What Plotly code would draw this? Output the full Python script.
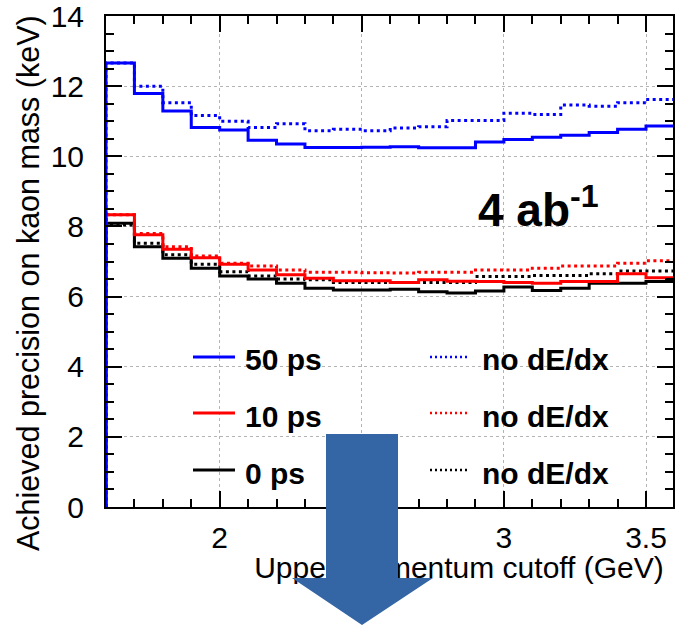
import plotly.graph_objects as go

# ---- data ----
bin_edges = [1.6, 1.7, 1.8, 1.9, 2.0, 2.1, 2.2, 2.3, 2.4, 2.5, 2.6, 2.7,
             2.8, 2.9, 3.0, 3.1, 3.2, 3.3, 3.4, 3.5, 3.6]
blue_50ps = [12.66, 11.79, 11.29, 10.82, 10.75, 10.46, 10.35, 10.25, 10.25, 10.26,
             10.27, 10.24, 10.24, 10.41, 10.48, 10.54, 10.60, 10.68, 10.77, 10.86]
blue_nodedx = [12.66, 12.00, 11.53, 11.16, 11.00, 10.82, 10.93, 10.73, 10.77, 10.73,
               10.81, 10.84, 11.02, 11.02, 11.23, 11.19, 11.46, 11.43, 11.53, 11.62]
red_10ps = [8.33, 7.76, 7.35, 7.11, 6.92, 6.76, 6.62, 6.52, 6.45, 6.45,
            6.40, 6.48, 6.44, 6.43, 6.40, 6.38, 6.43, 6.43, 6.65, 6.54]
red_nodedx = [8.33, 7.80, 7.42, 7.16, 6.95, 6.87, 6.76, 6.69, 6.69, 6.68,
              6.67, 6.69, 6.69, 6.76, 6.76, 6.81, 6.87, 6.87, 6.95, 7.02]
black_0ps = [8.09, 7.42, 7.09, 6.81, 6.59, 6.50, 6.38, 6.24, 6.19, 6.19,
             6.21, 6.14, 6.10, 6.16, 6.27, 6.17, 6.24, 6.38, 6.38, 6.43]
black_nodedx = [8.04, 7.52, 7.19, 6.92, 6.71, 6.59, 6.50, 6.48, 6.40, 6.40,
                6.40, 6.40, 6.40, 6.57, 6.57, 6.60, 6.60, 6.65, 6.73, 6.73]

legend_left = ["50 ps", "10 ps", "0 ps"]
legend_right = ["no dE/dx", "no dE/dx", "no dE/dx"]
colors = ["#0000ff", "#ff0000", "#000000"]
x_title = "Upper momentum cutoff (GeV)"
y_title = "Achieved precision on kaon mass (keV)"
lumi_main = "4 ab"
lumi_sup = "-1"

FONT = "Liberation Sans, Arial, Helvetica, sans-serif"
W, H = 678, 629
ML, MR, MT, MB = 106, 5, 16, 0
PW, PH = W - ML - MR, H - MT - MB
PLOT_BOTTOM = 507          # page pixel of the x axis
XR = [1.6, 3.595]
YR = [0, 14]
dom_main = (H - PLOT_BOTTOM) / PH
dom_low = dom_main - 0.01


def px(X):
    return (X - ML) / PW


def py(Y):
    return (H - MB - Y) / PH


def hist_xy(edges, vals):
    xs = [edges[0]] + list(edges)
    ys = [0] + list(vals) + [vals[-1]]
    return xs, ys


fig = go.Figure()
series = [
    (black_0ps, colors[2], "solid"),
    (black_nodedx, colors[2], "3px,3.5px"),
    (red_10ps, colors[1], "solid"),
    (red_nodedx, colors[1], "3px,3.5px"),
    (blue_50ps, colors[0], "solid"),
    (blue_nodedx, colors[0], "3px,3.5px"),
]
for vals, col, dash in series:
    xs, ys = hist_xy(bin_edges, vals)
    fig.add_trace(go.Scatter(x=xs, y=ys, mode="lines", line_shape="hv",
                             line=dict(color=col, width=3, dash=dash),
                             showlegend=False, hoverinfo="skip"))

# x-axis title drawn in a hidden lower subplot, so the arrow shape covers it
low_h = dom_low * PH
fig.add_trace(go.Scatter(x=[px(459)], y=[(H - 571) / low_h], mode="text",
                         text=[x_title], xaxis="x2", yaxis="y2",
                         textfont=dict(family=FONT, size=30, color="black"),
                         showlegend=False, hoverinfo="skip"))

axis_common = dict(showline=True, linecolor="black", linewidth=2, mirror="allticks",
                   ticks="inside", tickcolor="black", tickwidth=2,
                   showgrid=True, gridcolor="#b4b4b4", griddash="dot", gridwidth=1,
                   zeroline=False, automargin=False,
                   tickfont=dict(family=FONT, size=30, color="black"))

fig.update_layout(
    xaxis=dict(range=XR, tick0=2, dtick=0.5, ticklen=16, anchor="y",
               minor=dict(dtick=0.1, ticklen=8, ticks="inside", tickcolor="black",
                          tickwidth=2, showgrid=False),
               ticklabelstandoff=3, ticklabeloverflow="allow", **axis_common),
    yaxis=dict(range=YR, tick0=0, dtick=2, ticklen=16, domain=[dom_main, 1], anchor="x",
               minor=dict(dtick=0.5, ticklen=8, ticks="inside", tickcolor="black",
                          tickwidth=2, showgrid=False),
               ticklabelstandoff=14, ticklabeloverflow="allow", **axis_common),
    xaxis2=dict(range=[0, 1], domain=[0, 1], anchor="y2", visible=False),
    yaxis2=dict(range=[0, 1], domain=[0, dom_low], anchor="x2", visible=False),
)

shapes = []
annotations = []
rows_y = [357, 413, 470]
for i in range(3):
    shapes.append(dict(type="line", xref="paper", yref="paper",
                       x0=px(193), x1=px(235), y0=py(rows_y[i]), y1=py(rows_y[i]),
                       line=dict(color=colors[i], width=3)))
    shapes.append(dict(type="line", xref="paper", yref="paper",
                       x0=px(430), x1=px(468), y0=py(rows_y[i]), y1=py(rows_y[i]),
                       line=dict(color=colors[i], width=2.5, dash="2px,3px")))
    annotations.append(dict(xref="paper", yref="paper", x=px(243), y=py(rows_y[i] + 3),
                            xanchor="left", yanchor="middle", showarrow=False,
                            text="<b>%s</b>" % legend_left[i],
                            font=dict(family=FONT, size=30, color="black")))
    annotations.append(dict(xref="paper", yref="paper", x=px(480), y=py(rows_y[i] + 3),
                            xanchor="left", yanchor="middle", showarrow=False,
                            text="<b>%s</b>" % legend_right[i],
                            font=dict(family=FONT, size=30, color="black")))

annotations.append(dict(xref="paper", yref="paper", x=px(476), y=py(207),
                        xanchor="left", yanchor="middle", showarrow=False,
                        text="<b>%s<sup>%s</sup></b>" % (lumi_main, lumi_sup),
                        font=dict(family=FONT, size=46, color="black")))
annotations.append(dict(xref="paper", yref="paper", x=px(28), y=py(283),
                        xanchor="center", yanchor="middle", showarrow=False,
                        textangle=-90, text=y_title,
                        font=dict(family=FONT, size=30.5, color="black")))

# big blue arrow overlay
arrow_pts = [(326, 434), (398, 434), (398, 578), (433, 578), (362, 625),
             (292, 578), (326, 578)]
path = "M " + " L ".join("%.5f,%.5f" % (px(a), py(b)) for a, b in arrow_pts) + " Z"
shapes.append(dict(type="path", xref="paper", yref="paper", path=path,
                   fillcolor="#3465a4", line=dict(width=0), layer="above"))

fig.update_layout(width=W, height=H, autosize=False,
                  margin=dict(l=ML, r=MR, t=MT, b=MB, pad=0, autoexpand=False),
                  paper_bgcolor="white", plot_bgcolor="white",
                  shapes=shapes, annotations=annotations, showlegend=False)

fig.write_html("out.html", config={"displayModeBar": False},
               post_script="document.body.style.margin='0px';")
